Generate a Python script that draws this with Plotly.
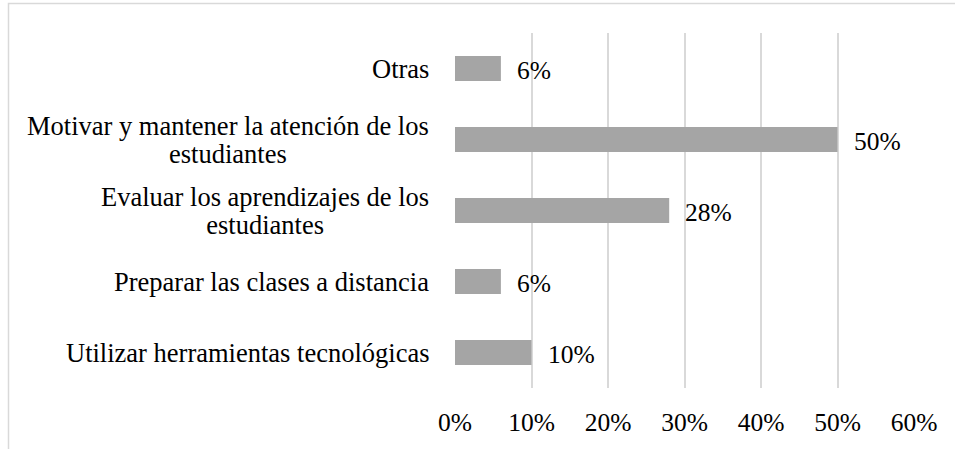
import plotly.graph_objects as go

categories = [
    "Utilizar herramientas tecnológicas",
    "Preparar las clases a distancia",
    "Evaluar los aprendizajes de los<br>estudiantes",
    "Motivar y mantener la atención de los<br>estudiantes",
    "Otras",
]
values = [0.10, 0.06, 0.28, 0.50, 0.06]
value_labels = ["10%", "6%", "28%", "50%", "6%"]
tick_vals = [0, 0.1, 0.2, 0.3, 0.4, 0.5, 0.6]
tick_text = ["0%", "10%", "20%", "30%", "40%", "50%", "60%"]

W, H = 955, 449
ML, MR, MT, MB = 455, 41, 33, 61
FONT = "Liberation Serif, Times New Roman, serif"
FS = 25.5
FS_CAT = 26.5

fig = go.Figure()
fig.add_trace(go.Bar(
    y=categories, x=values, orientation="h",
    marker=dict(color="#a5a5a5", line=dict(width=0)),
    width=0.35, hoverinfo="skip",
))

for c, v, t in zip(categories, values, value_labels):
    fig.add_annotation(x=v, y=c, text=t, showarrow=False, xanchor="left",
                       yanchor="middle", xshift=14, yshift=-2,
                       font=dict(family=FONT, size=FS, color="#000000"))

# category labels (centered lines, tighter line spacing like the original)
for c in categories:
    fig.add_annotation(x=0, y=c, xref="x", yref="y",
                       text=f'<span style="font-size:{FS_CAT}px">{c}</span>',
                       showarrow=False, xanchor="right", yanchor="middle",
                       align="center", xshift=-24, yshift=0,
                       font=dict(family=FONT, size=21.5, color="#000000"))

pw = W - ML - MR
ph = H - MT - MB
fig.add_shape(type="rect", xref="paper", yref="paper",
              x0=(8.5 - ML) / pw, x1=(965 - ML) / pw,
              y0=1 - (470 - MT) / ph, y1=1 - (3.5 - MT) / ph,
              line=dict(color="#d9d9d9", width=1.5), fillcolor="rgba(0,0,0,0)",
              layer="below")

fig.update_layout(
    width=W, height=H,
    margin=dict(l=ML, r=MR, t=MT, b=MB),
    paper_bgcolor="white", plot_bgcolor="white",
    showlegend=False,
    font=dict(family=FONT, size=FS, color="#000000"),
    xaxis=dict(range=[0, 0.6], tickvals=tick_vals, ticktext=tick_text,
               showgrid=True, gridcolor="#d9d9d9", gridwidth=1.5,
               zeroline=False, showline=False, ticks="",
               ticklabelstandoff=16, fixedrange=True),
    yaxis=dict(showgrid=False, zeroline=False, showline=False, ticks="",
               showticklabels=False, fixedrange=True),
)

fig.write_html("out.html", config={"displayModeBar": False},
               post_script="document.body.style.margin='0';document.body.style.padding='0';")
